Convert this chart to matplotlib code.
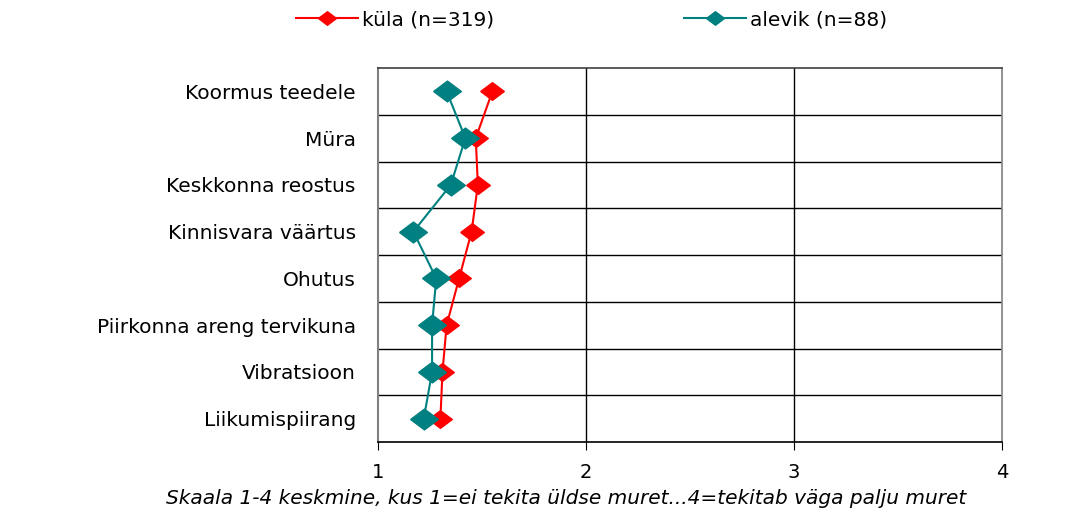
import matplotlib
matplotlib.use("Agg")
import matplotlib.pyplot as plt
from matplotlib.lines import Line2D

categories = ["Koormus teedele", "Müra", "Keskkonna reostus", "Kinnisvara väärtus",
              "Ohutus", "Piirkonna areng tervikuna", "Vibratsioon", "Liikumispiirang"]
kula = [1.55, 1.47, 1.48, 1.45, 1.39, 1.33, 1.31, 1.30]
alevik = [1.33, 1.42, 1.35, 1.17, 1.28, 1.26, 1.26, 1.22]
series_labels = ["küla (n=319)", "alevik (n=88)"]
xticks = [1, 2, 3, 4]
xlabel = "Skaala 1-4 keskmine, kus 1=ei tekita üldse muret...4=tekitab väga palju muret"

plt.rcParams['font.family'] = ['DejaVu Sans']

fig = plt.figure(figsize=(10.70, 5.09), dpi=100)
ax = fig.add_axes([378/1070, 1-442/509, (1002-378)/1070, (442-68)/509])

diamond = [(-1, 0), (0, 0.75), (1, 0), (0, -0.75), (-1, 0)]
y = list(range(len(categories)))

ax.plot(kula, y, color="#FF0000", lw=1.5, marker=diamond, ms=17,
        markerfacecolor="#FF0000", markeredgecolor="#FF0000", zorder=3,
        label=series_labels[0])
ax.plot(alevik, y, color="#008080", lw=1.5, marker=diamond, ms=20,
        markerfacecolor="#008080", markeredgecolor="#008080", zorder=4,
        label=series_labels[1])

ax.set_xlim(1, 4)
ax.set_ylim(len(categories) - 0.5, -0.5)
ax.set_xticks(xticks)
ax.set_xticklabels([str(t) for t in xticks], fontsize=14)
ax.set_yticks(y)
ax.set_yticklabels(categories, fontsize=14.5)
ax.tick_params(axis='y', length=0, pad=16)
ax.tick_params(axis='x', length=6, direction='out', pad=9, color='black')

for b in [i + 0.5 for i in range(len(categories) - 1)]:
    ax.axhline(b, color='black', lw=1.0, zorder=1)
for xv in xticks[1:-1]:
    ax.axvline(xv, color='black', lw=1.0, zorder=1)

ax.spines['left'].set_color('#808080')
ax.spines['left'].set_linewidth(1.5)
ax.spines['bottom'].set_color('black')
ax.spines['bottom'].set_linewidth(1.2)
ax.spines['top'].set_color('#404040')
ax.spines['top'].set_linewidth(1.2)
ax.spines['right'].set_color('#808080')
ax.spines['right'].set_linewidth(1.2)

fig.text(566/1070, 1-498/509, xlabel, fontsize=14.5, style='italic',
         ha='center', va='center')

colors = ["#FF0000", "#008080"]
anchors = [292/1070, 680/1070]
for lab, col, xa in zip(series_labels, colors, anchors):
    h = Line2D([], [], color=col, lw=1.5, marker=diamond, ms=13,
               markerfacecolor=col, markeredgecolor=col)
    fig.legend([h], [lab], loc='center left', bbox_to_anchor=(xa, 1-20/509),
               frameon=False, fontsize=14.5, handlelength=3.1,
               handletextpad=0.2, borderaxespad=0, borderpad=0.2)

fig.savefig("out.png", dpi=100)
